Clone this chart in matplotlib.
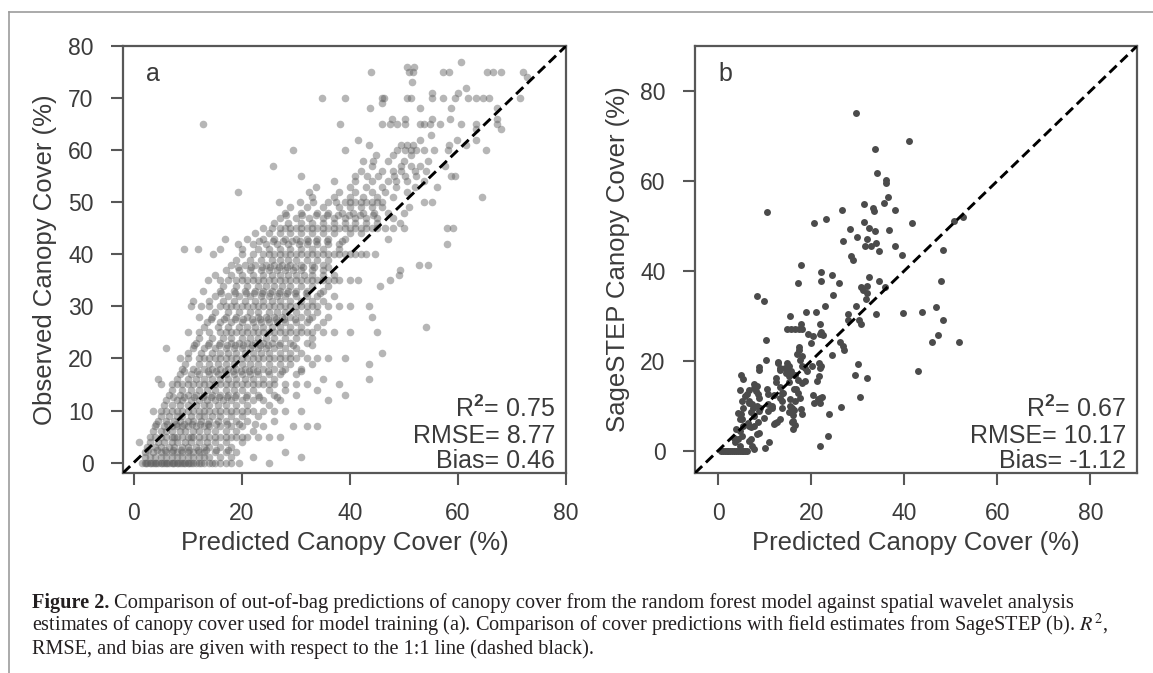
import matplotlib.pyplot as plt
from matplotlib.lines import Line2D

plt.rcParams['font.family'] = ['Liberation Sans', 'DejaVu Sans']
plt.rcParams['mathtext.fontset'] = 'custom'
plt.rcParams['mathtext.rm'] = 'Liberation Sans'
plt.rcParams['mathtext.bf'] = 'Liberation Sans:bold'

# ---- panel a: observed cover (rows) vs out-of-bag predicted cover ----
obs_a_levels = [0, 1, 2, 3, 4, 5, 6, 7, 8, 9, 10, 11, 12, 13, 14, 15, 16, 17, 18, 19,
                20, 21, 22, 23, 24, 25, 26, 27, 28, 29, 30, 31, 32, 33, 34, 35, 36, 37, 38, 39,
                40, 41, 42, 43, 44, 45, 46, 47, 48, 49, 50, 51, 52, 53, 54, 55, 56, 57, 58, 59,
                60, 61, 62, 63, 64, 65, 66, 68, 69, 70, 71, 72, 73, 74, 75, 76, 77,
                2.5, 7.5, 12.5, 17.5, 22.5, 27.5, 32.5, 37.5, 42.5, 47.5]
pred_a_rows = [
    [1.5, 2, 2.5, 3, 3.5, 4, 4.5, 5, 5.5, 6, 6.5, 7, 7.5, 8, 8.5, 9, 9.5, 10, 10.5, 11, 11.5, 12,
     13, 14, 15, 16, 17, 18, 19.5, 25, 2.2, 3.2, 4.2, 5.2, 6.2, 7.2, 8.2, 9.2, 10.2, 12.5, 14.5],
    [2, 3, 4, 5, 6, 7, 8, 9, 10, 11, 12, 13, 14, 16, 18, 22, 31],
    [2, 3.5, 5, 6, 7, 8, 9, 10, 11, 12, 13, 15, 17, 19, 28],
    [2.5, 4, 5, 6.5, 7.5, 9, 10, 11.5, 13, 14, 16, 18],
    [1, 3, 4.5, 5.5, 7, 8, 9.5, 10.5, 12, 13.5, 15, 17, 20],
    [3, 4, 5, 6, 7, 7.5, 8, 9, 10, 10.5, 11, 12, 13, 14, 15, 16, 17, 18, 19, 20, 21, 23, 25, 27],
    [3.5, 5, 6, 7, 8.5, 9.5, 11, 12, 13.5, 15, 17, 19, 22],
    [4, 5.5, 7, 8, 9, 10, 11.5, 13, 14, 16, 18, 20, 24, 29.5, 32, 34],
    [4.5, 6, 7.5, 8.5, 10, 11, 12.5, 14, 15.5, 17, 19, 21, 26],
    [5, 6.5, 8, 9, 10.5, 12, 13, 14.5, 16, 18, 20, 23],
    [3.5, 5, 6, 7, 8, 9, 10, 11, 12, 13, 14, 15, 16, 17, 18, 19, 20, 21, 22, 24, 26, 28, 31],
    [5.5, 7, 8.5, 10, 11.5, 13, 14, 15.5, 17, 19, 21, 25],
    [6, 8, 9, 10.5, 12, 13.5, 15, 16.5, 18, 20, 22, 24, 27, 36],
    [6.5, 8.5, 10, 11.5, 13, 14.5, 16, 17.5, 19, 21, 23, 26, 30, 39],
    [7, 9, 10.5, 12, 13.5, 15, 17, 18.5, 20, 22, 25, 28, 34],
    [5, 7, 8, 9, 10, 11, 12, 13, 14, 15, 16, 17, 18, 19, 20, 21, 22, 23, 24, 25, 26, 28, 30, 32, 38],
    [4.5, 8, 10, 11.5, 13, 14.5, 16, 17.5, 19, 20.5, 22, 24, 26, 35, 43.5],
    [8.5, 10.5, 12, 14, 15.5, 17, 18.5, 20, 21.5, 23, 25, 27, 30],
    [9, 11, 13, 14.5, 16, 17.5, 19, 20.5, 22, 24, 26, 28, 31],
    [9.5, 12, 14, 15.5, 17, 18.5, 20, 21.5, 23, 25, 27, 29, 33, 43.5],
    [8.5, 10, 12, 13, 14, 15, 16, 17, 18, 19, 20, 21, 22, 23, 24, 25, 26, 27, 28, 29, 30, 32, 34,
     36, 39],
    [10, 12.5, 14.5, 16, 17.5, 19, 20.5, 22, 23.5, 25, 27, 29, 31, 46],
    [6, 11, 13, 15, 17, 18.5, 20, 21.5, 23, 24.5, 26, 28, 30],
    [11.5, 14, 16, 18, 19.5, 21, 22.5, 24, 25.5, 27, 29, 32],
    [12, 14.5, 16.5, 18, 20, 21.5, 23, 24.5, 26, 28, 30, 33],
    [10, 12, 14, 16, 17, 18, 19, 20, 21, 22, 23, 24, 25, 26, 27, 28, 29, 30, 31, 32, 33, 35, 37,
     40, 45],
    [13, 15.5, 17.5, 19.5, 21, 22.5, 24, 25.5, 27, 29, 31, 34, 54],
    [13.5, 16, 18, 20, 22, 23.5, 25, 26.5, 28, 30, 32, 35],
    [12, 14.5, 17, 19, 21, 23, 24.5, 26, 27.5, 29, 31, 33, 36, 44],
    [15, 17.5, 19.5, 21.5, 23, 25, 26.5, 28, 30, 32, 34],
    [10.5, 12.5, 14, 16, 17, 18, 19, 20, 21, 22, 23, 24, 25, 26, 27, 28, 29, 30, 31, 32, 33, 34,
     36, 38, 40, 43.5],
    [11, 14, 16.5, 18.5, 20.5, 22.5, 24, 25.5, 27, 29, 31, 33, 35],
    [15, 17.5, 19.5, 21.5, 23.5, 25, 26.5, 28, 30, 32, 34, 37],
    [12.8, 16, 18.5, 20.5, 22.5, 24, 25.5, 27, 28.5, 30, 32, 35],
    [16.5, 19, 21, 23, 24.5, 26, 27.5, 29, 31, 33, 36, 45.5],
    [13.7, 16, 17.5, 19, 20, 21, 22, 23, 24, 25, 26, 27, 28, 29, 30, 31, 32, 33, 34, 35, 36, 37,
     38, 40, 41.5, 47.5],
    [15, 18, 20, 22, 24, 25.5, 27, 28.5, 30, 31.5, 33, 35, 37, 49],
    [17, 19.5, 21.5, 23.5, 25, 26.5, 28, 29.5, 31, 33, 35, 49.2],
    [18, 20.5, 22.5, 24.5, 26, 27.5, 29, 31, 33, 35, 52.7, 54.4],
    [19, 21.5, 23.5, 25.5, 27, 28.5, 30, 32, 34, 36],
    [14.7, 20, 22, 24, 25, 26, 27, 28, 29, 30, 31, 32, 33, 34, 35, 36, 37, 38, 39, 40, 41, 42, 43,
     44.6],
    [9.2, 11.9, 16, 20, 23, 25, 27, 29, 31, 33, 35, 38],
    [19.3, 22, 24.5, 26.5, 28.5, 30.5, 32, 34, 36, 38, 57.9],
    [16.8, 21, 24, 26, 28, 30, 32, 34, 36, 39, 47],
    [22.4, 25, 27, 29, 31, 33, 35, 37, 40, 42],
    [24, 25.5, 27, 28, 29, 30, 31, 32, 33, 34, 35, 36, 37, 38, 39, 40, 41, 42, 43, 44, 45, 46.5,
     48, 50, 57.9, 59],
    [26, 28.5, 31, 33, 35, 37, 39, 41, 43, 45, 49.2],
    [27, 30, 32.5, 35, 37, 39, 41, 43, 45, 48],
    [28, 31, 34, 36, 38.5, 40.5, 42.5, 44.5, 47, 50],
    [29, 32, 35, 38, 40, 42, 44, 46, 51],
    [26.9, 30.7, 33.2, 36, 37.5, 39, 40, 41, 42, 43, 44, 45, 46, 53.7, 55.2],
    [33, 37, 40, 42.5, 45, 48, 64.4],
    [19.2, 32.5, 38, 41, 44, 46.5, 50.6],
    [33.7, 40, 43, 46, 48.5, 52, 56.2],
    [37, 41, 44, 47, 48.5, 50.5, 53.7],
    [30.9, 41, 43.1, 45.2, 48.1, 50.2, 52.3, 58.7, 59.4],
    [42, 46, 48, 49.5, 52, 54],
    [25.8, 44, 49.5, 51.3, 53, 57.6],
    [42.4, 44.2, 47, 50, 54.4],
    [44.9, 48, 51.3],
    [29.5, 39, 48.8, 50.2, 51.3, 52.3, 53.7, 55.5, 58.1, 65.1],
    [43.5, 49.5, 50.6, 51.6, 58.3, 61.5],
    [41.5, 53, 59.8, 63.3],
    [55],
    [63.3, 67.9],
    [12.9, 38.2, 46, 47.4, 48.8, 50.2, 53, 53.7, 54.8, 56.6, 60.5, 63.3, 67.2],
    [47.7, 50.2, 55.2, 58.6, 67.2],
    [43.7, 53, 58.7, 67.2],
    [46],
    [34.9, 39, 46, 46.3, 50.6, 51.3, 55.2, 57.3, 59.4, 61.9, 63.4, 64.6, 65.8, 71.4],
    [55.2, 60.1],
    [61.5],
    [51.5],
    [72.8],
    [43.9, 50.9, 51.6, 57.3, 58.3, 65.4, 66.5, 67.9, 72.1],
    [50.6, 51.9],
    [60.6],
    # half-step rows filling the dense core
    [2.7, 4.3, 5.8, 7.3, 8.8, 10.3, 11.8, 13.3, 15.2, 17.5],
    [4.2, 6.2, 7.8, 9.3, 10.8, 12.3, 13.8, 15.3, 17.2, 19.5, 22.5],
    [7.2, 9.2, 11.2, 12.8, 14.3, 15.8, 17.3, 18.8, 20.8, 23.2, 26.5],
    [9.2, 11.7, 13.7, 15.3, 16.8, 18.3, 19.8, 21.3, 22.8, 24.8, 27.5, 31],
    [11.2, 13.7, 15.7, 17.3, 18.8, 20.3, 21.8, 23.3, 24.8, 26.8, 29.5, 33],
    [14.2, 16.7, 18.7, 20.3, 21.8, 23.3, 24.8, 26.3, 27.8, 29.8, 32.5],
    [16.2, 18.7, 20.7, 22.3, 23.8, 25.3, 26.8, 28.3, 29.8, 31.8, 34.5],
    [19.2, 21.7, 23.7, 25.3, 26.8, 28.3, 29.8, 31.3, 33.3, 36],
    [23.2, 25.7, 27.7, 29.3, 30.8, 32.3, 33.8, 35.8, 38.5],
    [28.2, 31.2, 33.7, 35.8, 37.8, 39.8, 41.8, 44.2],
]

# ---- panel b: SageSTEP field cover vs predicted cover (x, y) ----
sagestep_pairs = [
    (29.5, 75.2), (40.9, 68.8), (33.7, 67.0), (34.2, 61.8), (36.0, 60.1), (36.1, 59.6),
    (36.5, 56.3), (35.6, 55.0), (31.3, 54.8), (33.3, 54.0), (33.5, 53.3), (38.0, 53.6),
    (26.7, 53.6), (10.5, 53.0), (23.1, 51.5), (20.6, 50.6), (41.6, 50.6), (50.6, 51.1),
    (52.6, 51.9), (31.3, 50.8), (32.5, 49.5), (33.7, 48.9), (28.3, 49.3), (36.6, 49.1),
    (29.9, 47.6), (31.9, 47.1), (26.8, 46.7), (33.8, 46.1), (32.9, 45.4), (31.5, 45.6),
    (38.0, 45.5), (34.6, 44.4), (48.3, 44.7), (39.5, 43.4), (28.5, 43.3), (29.0, 42.3),
    (17.7, 41.2), (22.1, 39.7), (24.4, 39.0), (32.5, 38.6), (22.1, 37.7), (34.6, 37.7),
    (47.9, 37.7), (17.1, 37.2), (25.9, 37.2), (30.7, 36.3), (31.9, 36.6), (31.1, 35.7),
    (32.0, 35.1), (35.8, 36.4), (24.6, 34.6), (8.4, 34.4), (9.9, 33.3), (31.7, 33.7),
    (29.7, 32.2), (22.9, 32.2),
    (15.4, 30.0), (18.9, 30.8), (20.9, 30.8), (27.8, 30.4), (27.8, 29.1), (33.8, 30.4),
    (39.7, 30.5), (43.7, 30.8), (46.7, 31.9), (48.4, 29.1), (30.3, 29.1), (30.7, 28.2),
    (14.8, 27.1), (15.7, 27.1), (16.6, 27.1), (17.4, 27.1), (18.1, 27.1), (17.8, 28.1),
    (21.8, 28.1), (22.1, 26.4), (22.5, 25.8), (19.3, 25.9), (20.4, 25.4), (20.0, 23.9),
    (10.2, 24.5), (47.3, 25.8), (45.9, 24.2), (51.7, 24.2), (26.1, 24.2), (26.9, 23.3),
    (17.4, 23.1), (17.3, 22.4), (17.0, 21.4), (18.1, 21.0), (24.4, 21.2), (27.1, 22.4),
    (21.8, 25.9), (10.3, 20.2), (12.8, 19.7), (14.7, 19.5), (15.2, 18.9), (14.4, 18.4),
    (20.1, 18.9), (22.1, 18.9), (8.7, 18.5), (13.2, 18.3), (15.6, 17.7), (16.4, 16.9),
    (21.6, 16.6), (30.1, 19.2), (29.4, 16.8), (31.9, 16.2), (43.0, 17.8), (17.5, 20.2),
    (18.1, 18.9), (18.7, 18.4), (19.1, 17.7), (21.6, 19.5), (21.9, 18.4), (21.2, 15.4),
    (8.8, 17.9), (12.9, 19.5), (14.8, 18.4), (15.5, 17.4), (13.3, 17.9), (14.6, 17.2),
    (4.8, 16.8), (5.4, 15.9), (12.4, 16.2), (18.1, 15.0), (17.2, 15.6), (7.7, 14.8),
    (18.6, 15.4), (15.1, 16.6), (15.1, 15.2), (16.2, 13.7), (4.6, 13.4), (6.6, 13.5),
    (5.8, 12.2), (10.5, 13.6), (13.6, 12.8), (11.9, 12.4), (8.3, 14.4), (17.2, 12.8),
    (20.4, 12.4), (21.8, 11.7), (22.4, 12.0), (30.4, 11.8), (15.5, 11.5), (16.5, 11.1),
    (11.6, 10.0), (5.1, 11.1), (6.7, 10.6), (7.5, 9.5), (8.7, 11.7), (26.4, 9.7),
    (21.4, 11.4), (20.5, 10.6), (21.9, 10.6), (7.6, 14.0), (8.2, 13.3), (8.5, 12.6),
    (10.6, 12.6), (12.4, 15.2), (13.3, 14.1), (6.2, 12.5), (6.5, 11.0), (5.4, 9.5),
    (7.2, 10.3), (8.3, 10.0), (9.0, 9.5), (8.8, 8.8), (7.0, 8.6), (7.7, 7.7),
    (4.9, 8.1), (4.6, 7.0), (13.7, 11.0), (14.0, 12.9), (13.3, 11.7), (13.7, 9.5),
    (15.5, 9.9), (16.2, 9.0), (15.3, 8.6), (16.1, 7.9), (16.1, 6.6), (16.6, 5.7),
    (16.8, 13.7), (17.6, 11.6), (18.0, 8.1), (10.7, 10.3), (11.5, 9.5), (15.8, 9.5),
    (17.8, 9.2), (23.9, 8.1), (10.6, 8.8), (4.3, 8.4), (5.1, 7.0), (6.3, 6.1),
    (9.9, 7.2), (11.9, 5.9), (12.7, 6.3), (12.2, 6.1), (13.3, 7.1), (15.8, 6.3),
    (16.0, 4.8), (7.1, 5.2), (8.3, 3.7), (3.9, 4.8), (5.1, 3.3), (4.3, 2.6),
    (7.1, 2.6), (5.4, 5.5), (4.6, 4.4), (6.5, 5.5), (7.6, 5.4), (8.5, 6.3),
    (8.7, 3.9), (6.7, 2.2), (7.2, 1.1), (7.7, 0.4), (11.0, 1.8), (10.0, 0.5),
    (23.5, 3.3), (21.9, 1.1), (3.3, 2.7), (3.6, 1.8), (4.6, 1.1),
    (0.6, 0), (1.0, 0), (1.4, 0), (1.8, 0), (2.2, 0), (2.6, 0), (3.0, 0), (3.4, 0),
    (3.8, 0), (4.2, 0), (4.6, 0), (5.0, 0), (5.4, 0), (5.8, 0), (6.2, 0),
]

stats_a = {'r2': 0.75, 'rmse': 8.77, 'bias': 0.46}
stats_b = {'r2': 0.67, 'rmse': 10.17, 'bias': -1.12}

pred_a = [x for row in pred_a_rows for x in row]
obs_a = [lvl for lvl, row in zip(obs_a_levels, pred_a_rows) for _ in row]
pred_b = [p[0] for p in sagestep_pairs]
obs_b = [p[1] for p in sagestep_pairs]

TXT = '#3b3b3b'
SPINE = '#575757'
W, H = 1153, 673

fig = plt.figure(figsize=(W / 100, H / 100), dpi=100)


def axes_px(left, top, right, bottom):
    return fig.add_axes([left / W, 1 - bottom / H, (right - left) / W, (bottom - top) / H])


ax_a = axes_px(123, 46, 566, 473)
ax_b = axes_px(695, 46, 1137, 473)

ax_a.scatter(pred_a, obs_a, s=30, color='#5e5e5e', alpha=0.45, linewidths=0, zorder=2)
ax_b.scatter(pred_b, obs_b, s=25, color='#4b4b4b', linewidths=0, zorder=2)


def style(ax, lims, yticks, ylabel, letter, stats):
    ax.set_xlim(lims)
    ax.set_ylim(lims)
    ax.plot(lims, lims, color='black', lw=2.1, linestyle=(0, (3.4, 1.8)), zorder=3)
    ax.set_xticks([0, 20, 40, 60, 80])
    ax.set_yticks(yticks)
    for sp in ax.spines.values():
        sp.set_color(SPINE)
        sp.set_linewidth(1.6)
    ax.tick_params(direction='out', length=8.5, width=1.5, color=SPINE,
                   labelsize=16.5, labelcolor=TXT)
    ax.tick_params(axis='x', pad=12.5)
    ax.tick_params(axis='y', pad=12.7)
    ax.set_xlabel('Predicted Canopy Cover (%)', fontsize=18.5, color=TXT, va='center')
    ax.set_ylabel(ylabel, fontsize=18.5, color=TXT, va='center')
    ax.xaxis.set_label_coords(0.5, -0.164)
    ax.yaxis.set_label_coords(-0.175, 0.5)
    ax.text(0.053, 0.917, letter, transform=ax.transAxes, fontsize=18, color=TXT,
            va='baseline', ha='left')
    lines = [r'R$^{\mathbf{2}}$= ' + '{:.2f}'.format(stats['r2']),
             'RMSE= {:.2f}'.format(stats['rmse']),
             'Bias= {:.2f}'.format(stats['bias'])]
    for txt, yb in zip(lines, [0.131, 0.071, 0.012]):
        ax.text(0.975, yb, txt, transform=ax.transAxes, fontsize=18, color=TXT,
                ha='right', va='baseline', math_fontfamily='custom')


style(ax_a, (-2, 80), range(0, 81, 10), 'Observed Canopy Cover (%)', 'a', stats_a)
style(ax_b, (-5, 90), range(0, 81, 20), 'SageSTEP Canopy Cover (%)', 'b', stats_b)

# page frame lines
fig.add_artist(Line2D([9 / W, 1], [1 - 12 / H, 1 - 12 / H], transform=fig.transFigure,
                      color='#9c9c9c', lw=1.2))
fig.add_artist(Line2D([9 / W, 9 / W], [0, 1 - 12 / H], transform=fig.transFigure,
                      color='#9c9c9c', lw=1.2))

# caption
cap_kw = dict(family='Liberation Serif', color='#231f20', va='baseline', ha='left')
x0 = 32 / W
renderer = fig.canvas.get_renderer()

line2 = fig.text(x0, 1 - 631 / H,
                 'estimates of canopy cover used for model training (a). Comparison of cover '
                 'predictions with field estimates from SageSTEP (b). $R^2$,',
                 fontsize=13, math_fontfamily='stix', **cap_kw)
size = 13 * (1105 - 32) / line2.get_window_extent(renderer).width
line2.set_fontsize(size)

bold = fig.text(x0, 1 - 608 / H, 'Figure 2.', fontsize=size, weight='bold', **cap_kw)
bx1 = bold.get_window_extent(renderer).x1 + size * 0.3
rest = fig.text(bx1 / W, 1 - 608 / H,
                'Comparison of out-of-bag predictions of canopy cover from the random forest '
                'model against spatial wavelet analysis', fontsize=size, **cap_kw)
rest.set_fontsize(size * (1075 - bx1) / rest.get_window_extent(renderer).width)

fig.text(x0, 1 - 654 / H,
         'RMSE, and bias are given with respect to the 1:1 line (dashed black).',
         fontsize=size, **cap_kw)

fig.savefig('out.png', dpi=100)
